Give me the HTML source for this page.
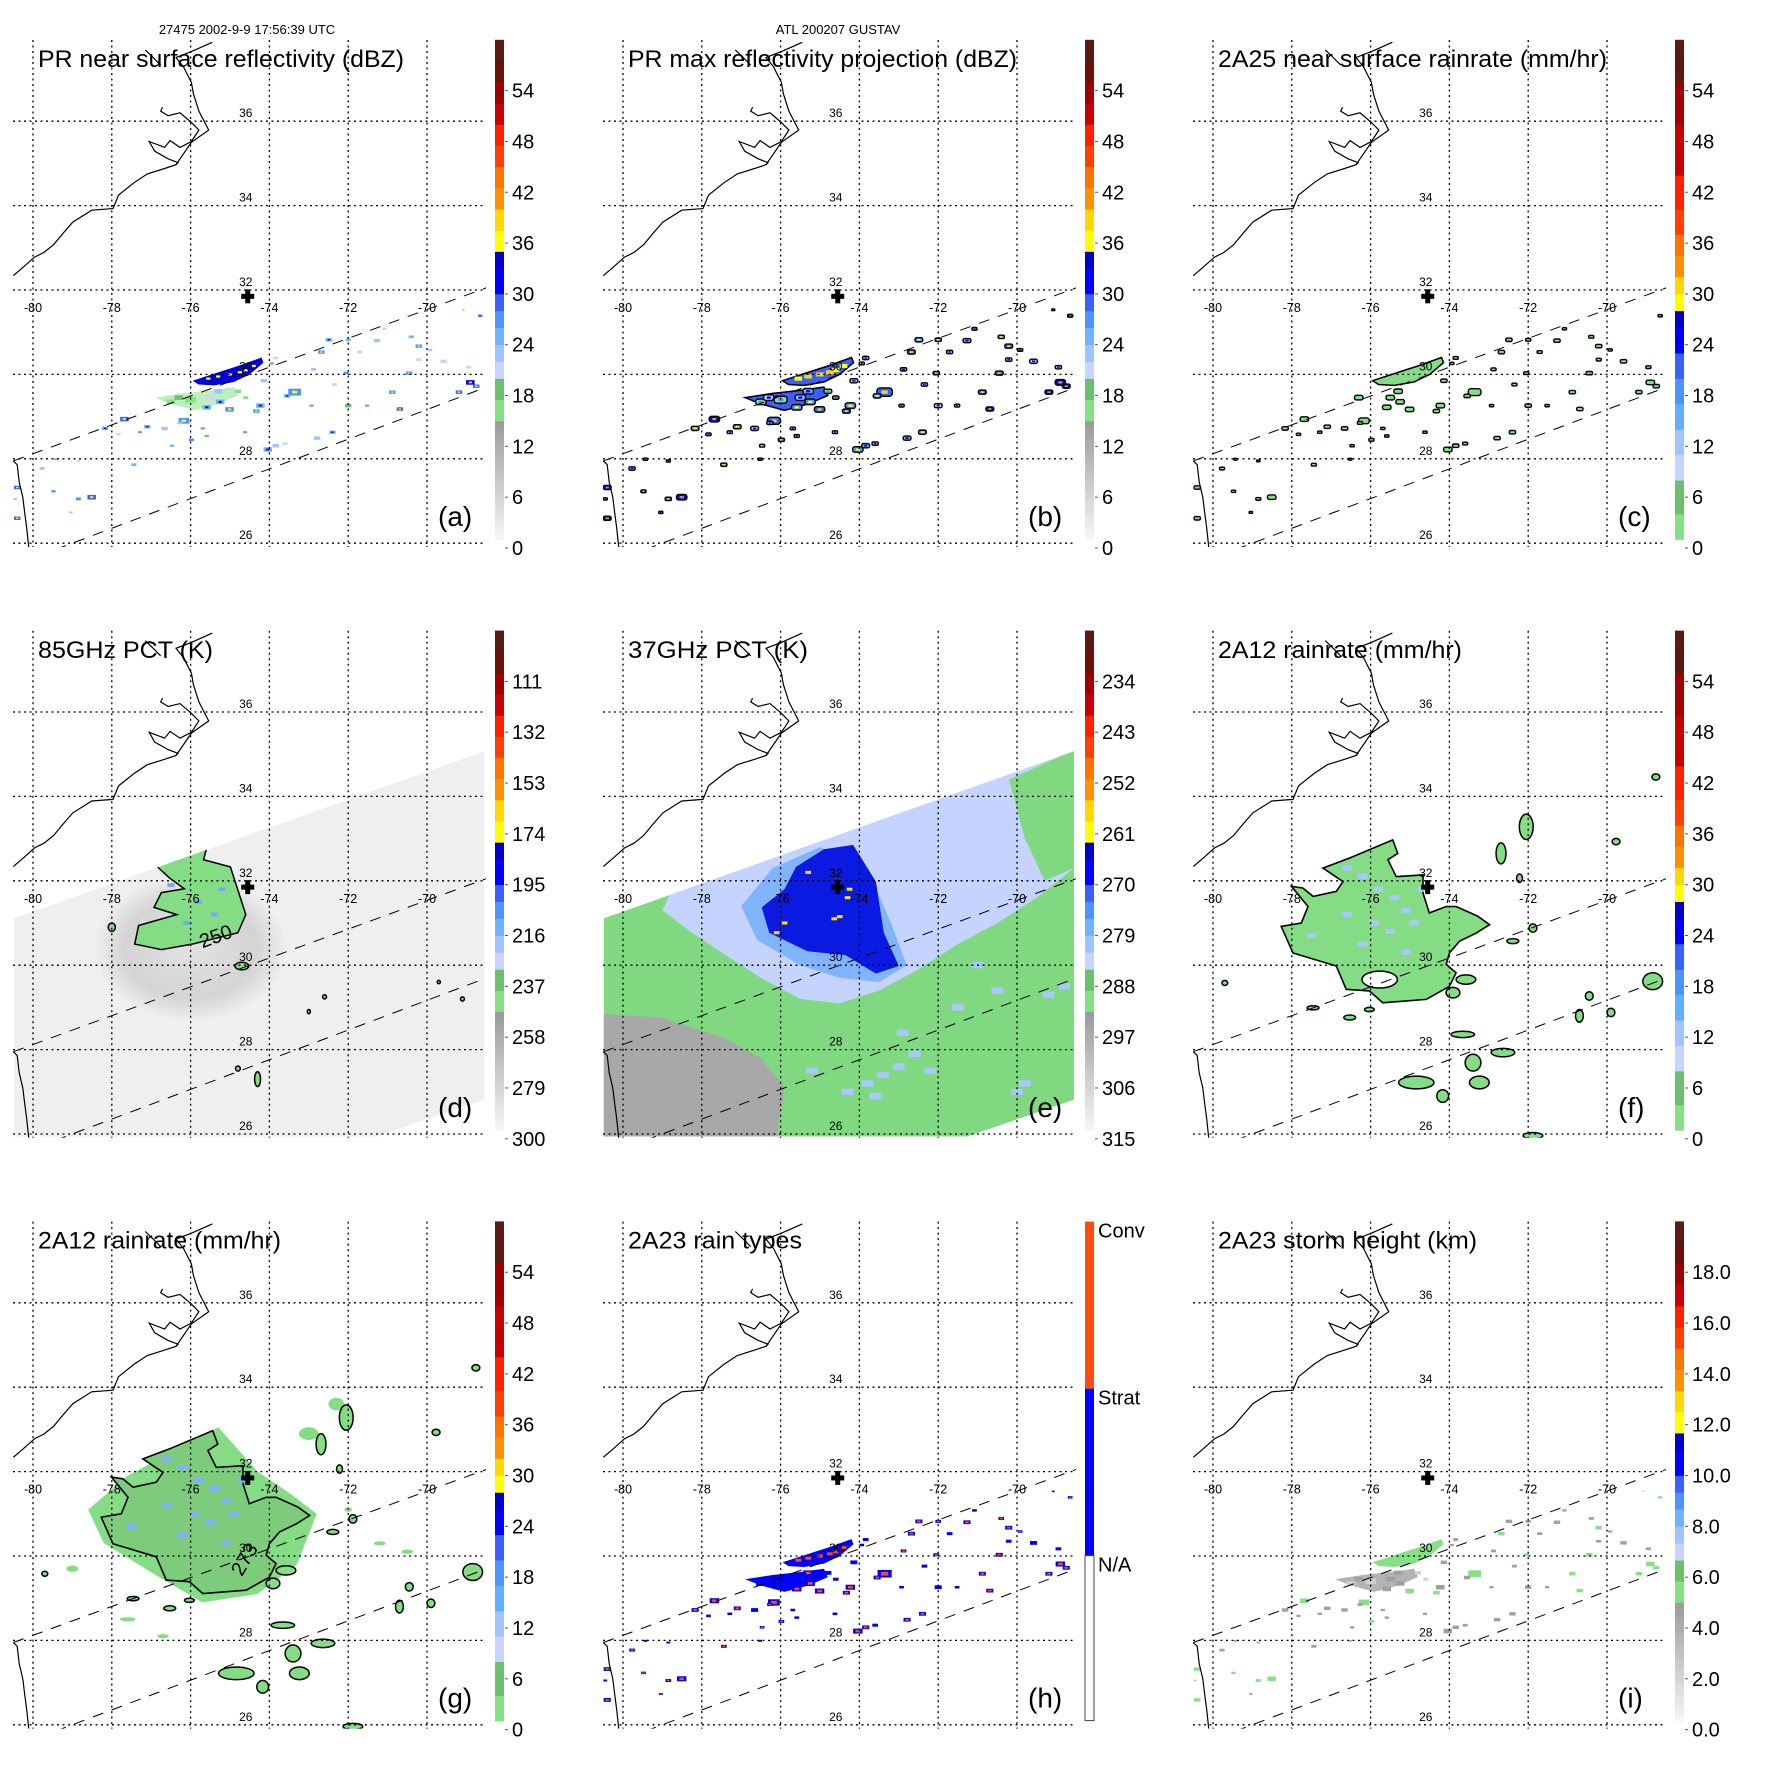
<!DOCTYPE html>
<html><head><meta charset="utf-8"><style>
html,body{margin:0;padding:0;background:#fff}
svg{display:block;font-family:"Liberation Sans",Arial,sans-serif}
</style></head><body>
<svg id="fig" width="1771" height="1771" viewBox="0 0 1771 1771" xmlns="http://www.w3.org/2000/svg">
<rect x="0" y="0" width="1771" height="1771" fill="#fff"/>
<text x="247" y="34" font-size="13" text-anchor="middle">27475 2002-9-9 17:56:39 UTC</text>
<text x="838" y="34" font-size="13" text-anchor="middle">ATL 200207 GUSTAV</text>
</svg>
<script>
// ---------- data ----------
const LONS=[-80,-78,-76,-74,-72,-70];
const LATS=[36,34,32,30,28,26];
const lonLabels=['-80','-78','-76','-74','-72','-70'];
const latLabels=['36','34','32','30','28','26'];
const center=[-74.55,31.85];
const swathUpper=[[-80.5,27.95],[-68.5,32.05]];
const swathLower=[[-79.43,25.85],[-68.6,29.66]];
const coastMain=[[-80.5,32.34],[-80.26,32.53],[-79.96,32.78],[-79.72,32.89],[-79.48,33.07],[-79.24,33.34],[-78.99,33.61],[-78.51,33.89],[-77.97,33.93],[-77.83,34.25],[-77.44,34.54],[-77.10,34.75],[-76.66,34.88],[-76.37,34.97],[-76.32,35.02],[-76.57,35.11],[-76.91,35.29],[-77.05,35.52],[-76.66,35.38],[-76.52,35.54],[-76.27,35.38],[-75.98,35.52],[-75.79,35.79],[-75.98,35.97],[-76.27,36.20],[-76.57,36.13],[-76.76,36.24],[-76.71,36.33]];
const coastBanks=[[-76.37,34.97],[-75.98,35.50],[-75.54,35.79],[-75.79,36.24],[-75.93,36.65],[-75.98,36.92],[-76.18,37.29],[-76.37,37.51],[-75.98,37.65],[-75.45,37.87]];
const coastBay=[[-76.76,37.33],[-76.95,37.51],[-77.15,37.69]];
const coastFlorida=[[-80.50,27.95],[-80.40,27.86],[-80.35,27.45],[-80.26,27.09],[-80.21,26.72],[-80.16,26.36],[-80.11,25.91]];
// PR cells: lon, lat, size(deg), reflectivity(dBZ)
const cells=[[-72.49,30.82,.15,28],[-72.0,30.82,.12,28],[-72.68,30.53,.15,30],[-72.88,30.12,.12,26],[-73.36,29.58,.3,30],[-73.55,29.49,.15,28],[-73.84,30.39,.12,24],[-73.94,30.26,.1,22],[-74.14,29.85,.15,25],[-74.23,29.26,.2,28],[-74.33,29.13,.15,30],[-75.01,29.17,.2,30],[-75.25,29.35,.2,28],[-75.59,29.22,.2,28],[-76.17,28.90,.25,30],[-76.27,28.85,.12,26],[-76.66,28.72,.15,25],[-77.10,28.76,.15,28],[-77.68,28.94,.2,32],[-78.17,28.72,.15,28],[-77.83,28.58,.1,24],[-77.29,28.63,.1,22],[-75.69,28.72,.1,22],[-74.62,28.63,.1,22],[-74.04,28.22,.2,28],[-73.84,28.31,.15,26],[-73.6,28.36,.12,24],[-72.79,28.49,.15,26],[-72.40,28.63,.15,28],[-72.35,29.76,.12,24],[-72.0,29.26,.15,22],[-72.05,30.03,.12,30],[-71.27,30.80,.15,26],[-71.08,31.08,.1,24],[-71.71,30.53,.12,24],[-70.88,29.58,.15,30],[-70.69,29.18,.15,32],[-70.40,30.89,.12,28],[-70.21,30.67,.15,30],[-69.92,30.58,.1,26],[-70.21,30.35,.12,24],[-70.45,30.03,.15,30],[-69.58,30.31,.15,24],[-68.95,30.17,.12,24],[-68.9,29.81,.2,34],[-68.75,29.72,.15,32],[-69.19,29.58,.15,32],[-68.65,31.39,.1,32],[-69.08,31.53,.06,20],[-75.98,28.45,.12,30],[-76.47,28.31,.1,28],[-75.59,28.54,.1,22],[-77.44,27.86,.12,28],[-79.77,27.77,.12,26],[-79.48,27.23,.1,30],[-78.85,27.05,.12,30],[-78.51,27.09,.2,32],[-79.04,26.73,.08,26],[-80.4,27.32,.15,32],[-80.4,26.59,.15,32],[-80.45,27.05,.08,20],[-79.43,27.99,.08,22],[-78.85,27.95,.08,24],[-76.52,27.99,.08,24],[-71.52,29.26,.1,22],[-72.93,29.26,.1,22],[-76.5,29.35,.2,19],[-76.0,29.4,.25,19],[-75.5,29.45,.2,24],[-76.3,29.45,.2,22],[-74.8,29.6,.15,19],[-75.3,29.6,.2,26],[-74.6,29.45,.12,20]];
const coreBand=[[-75.95,29.85],[-75.4,30.02],[-74.8,30.2],[-74.2,30.4],[-74.15,30.28],[-74.5,30.0],[-74.9,29.82],[-75.4,29.74],[-75.8,29.76]];
const secondBand=[[-76.9,29.45],[-76.2,29.55],[-75.5,29.62],[-74.9,29.7],[-74.8,29.5],[-75.3,29.3],[-75.9,29.15],[-76.5,29.3]];
const coreSpecks=[[-75.3,29.95,37],[-75.0,30.0,38],[-74.6,30.1,36],[-74.75,30.05,37],[-74.4,30.2,36],[-75.55,29.9,36]];
// TMI swath
const tmiSwath=[[-80.49,31.11],[-68.55,35.07],[-68.55,26.81],[-71.26,25.94],[-80.49,25.94]];
const dRing=[-76.0,30.4,2.4,1.7];
const dGreen=[[-76.93,32.42],[-76.06,32.68],[-75.57,32.85],[-75.67,32.5],[-74.99,32.33],[-74.6,31.2],[-74.8,30.77],[-75.96,30.5],[-76.74,30.37],[-77.42,30.5],[-77.32,30.94],[-76.35,31.2],[-76.93,31.37],[-76.74,31.72],[-76.16,31.81],[-76.54,32.07],[-76.84,32.33]];
const dBlobs=[[-74.7,29.98,.35,.18],[-72.6,29.25,.1,.1],[-69.1,29.2,.1,.1],[-74.3,27.3,.15,.35],[-74.8,27.55,.12,.12],[-78.0,30.9,.18,.2],[-73.0,28.9,.08,.1],[-69.7,29.6,.08,.08]];
const dBlueCells=[[-76.5,31.9],[-75.8,31.5],[-75.4,31.2],[-76.1,31.0],[-75.2,31.8]];
const eLightBlue=[[-78.7,31.9],[-68.55,35.2],[-68.55,32.3],[-69.5,31.6],[-70.5,31.0],[-71.5,30.5],[-72.5,29.9],[-73.5,29.4],[-74.5,29.1],[-75.5,29.2],[-76.5,29.7],[-77.5,30.3],[-78.3,30.8],[-79.0,31.3]];
const eGreenR=[[-70.2,34.4],[-68.55,35.1],[-68.55,32.3],[-69.3,32.0],[-69.8,33.0]];
const eMedBlue=[[-76.2,32.3],[-75.0,32.8],[-73.8,32.3],[-73.2,31.0],[-72.8,30.0],[-73.5,29.6],[-74.5,29.7],[-75.5,30.0],[-76.6,30.6],[-77.0,31.4]];
const eDarkBlue=[[-75.61,32.33],[-74.9,32.75],[-74.16,32.85],[-73.58,31.98],[-73.38,30.77],[-73.0,29.98],[-73.58,29.8],[-74.35,30.24],[-75.32,30.33],[-76.29,30.77],[-76.48,31.37],[-75.9,31.8]];
const eYellow=[[-75.3,32.2],[-74.25,31.8],[-74.3,31.6],[-74.64,31.1],[-74.5,31.15],[-76.1,30.77],[-75.9,31.0]];
const eGray=[[-80.49,28.85],[-79,28.75],[-77.5,28.3],[-76.5,27.8],[-75.9,27.1],[-76.1,25.94],[-80.49,25.94]];
const eBlueCells=[[-73.8,27.2],[-73.4,27.4],[-73.0,27.6],[-72.6,27.9],[-72.2,27.5],[-74.3,27.0],[-73.6,26.9],[-70.0,27.0],[-69.8,27.2],[-75.2,27.5],[-71.5,29.0],[-69.2,29.3],[-68.8,29.5],[-72.9,28.4],[-71.0,30.0],[-70.5,29.4]];
// 2A12 rain
const fBlob=[[-77.21,32.30],[-76.53,32.54],[-75.44,32.97],[-75.31,32.65],[-75.56,32.50],[-75.35,32.10],[-74.67,32.14],[-74.67,31.71],[-74.51,31.24],[-74.08,31.39],[-73.83,31.39],[-73.28,31.16],[-72.98,30.96],[-73.32,30.76],[-73.74,30.57],[-74.0,30.29],[-74.08,30.02],[-73.83,29.82],[-74.0,29.50],[-74.59,29.19],[-75.69,29.11],[-76.03,29.39],[-76.62,29.43],[-76.87,29.98],[-77.97,30.29],[-78.27,30.92],[-77.76,31.0],[-77.59,31.39],[-78.01,31.87],[-77.72,31.83],[-77.46,31.63],[-76.87,31.75],[-76.70,31.98]];
const fHole=[-75.77,29.66,.45,.2];
const fBlobs=[[-72.05,33.28,.35,.6],[-72.69,32.65,.25,.5],[-69.77,32.93,.2,.15],[-73.58,29.66,.5,.22],[-73.91,29.35,.35,.25],[-73.66,28.36,.6,.15],[-72.64,27.93,.6,.2],[-73.4,27.69,.4,.4],[-73.24,27.22,.5,.3],[-74.84,27.22,.9,.3],[-74.17,26.9,.3,.3],[-68.84,29.62,.5,.4],[-70.7,28.80,.2,.3],[-69.9,28.88,.2,.2],[-70.45,29.27,.2,.2],[-71.88,30.88,.2,.2],[-72.39,30.57,.3,.12],[-76.53,28.76,.3,.12],[-76.03,28.95,.25,.1],[-77.46,28.99,.3,.1],[-79.7,29.58,.15,.12],[-72.22,32.06,.15,.2],[-68.76,34.46,.2,.15],[-71.88,25.96,.5,.15]];
const fBlueCells=[[-76.6,32.3],[-76.2,32.1],[-75.8,31.8],[-75.4,31.6],[-75.1,31.3],[-75.9,31.0],[-75.5,30.8],[-76.6,31.2],[-74.9,31.0],[-76.2,30.5],[-74.7,31.8],[-77.5,30.7],[-75.1,30.3]];
const gHalo=[[-77.6,31.9],[-75.3,33.05],[-74.3,32.0],[-73.5,31.5],[-72.8,31.0],[-73.3,29.8],[-74.3,29.1],[-75.7,28.9],[-76.8,29.5],[-78.2,30.3],[-78.6,31.1]];
const gExtra=[[-73.0,32.9,.5,.3],[-72.3,33.6,.4,.3],[-79.0,29.7,.3,.15],[-76.7,28.1,.3,.1],[-77.6,28.5,.4,.1],[-72.0,31.1,.2,.1],[-71.2,30.3,.3,.1],[-70.5,30.1,.3,.1],[-73.5,30.4,.6,.3]];
// colorbar tick labels (top to bottom)
const cbA=['54','48','42','36','30','24','18','12','6','0'];
const cbD=['111','132','153','174','195','216','237','258','279','300'];
const cbE=['234','243','252','261','270','279','288','297','306','315'];
const cbI=['18.0','16.0','14.0','12.0','10.0','8.0','6.0','4.0','2.0','0.0'];
const cbH=['Conv','Strat','N/A'];

// ---------- helpers ----------
const NS='http://www.w3.org/2000/svg';
const svg=document.getElementById('fig');
function mk(parent,tag,attrs,name){
  const el=document.createElementNS(NS,tag);
  for(const k in attrs) el.setAttribute(k,attrs[k]);
  
  
  parent.appendChild(el); return el;
}
const X=lon=>33+(lon+80)*39.4;
const Y=lat=>290-(lat-32)*42.2;
const pts=a=>a.map(p=>X(p[0]).toFixed(1)+','+Y(p[1]).toFixed(1)).join(' ');
function cA(v){
  if(v<15){const g=Math.round(252-(v/15)*100);return `rgb(${g},${g},${g})`;}
  if(v<20) return v<17.5?'#86e086':'#6cc06c';
  if(v<22) return '#c8d4ff'; if(v<24) return '#a0c4ff'; if(v<26) return '#70b4ff';
  if(v<28) return '#4c94ff'; if(v<30) return '#3a60ff'; if(v<33) return '#0000ff';
  if(v<35) return '#0000c8'; if(v<40) return v<37.5?'#ffff00':'#ffd800';
  if(v<45) return v<42.5?'#ff9000':'#ff7400'; if(v<50) return v<47.5?'#ff4000':'#ff2000';
  if(v<55) return v<52.5?'#c80000':'#a00000'; return v<57.5?'#6a1008':'#5a1a14';
}
function cR(v){
  if(v<8) return v<4?'#86e086':'#6cc06c';
  if(v<11) return '#c8d4ff'; if(v<14) return '#a0c4ff'; if(v<17) return '#60b0ff';
  if(v<20) return '#4c94ff'; if(v<23) return '#3a60ff'; if(v<26) return '#0000ff';
  if(v<28) return '#0000c8'; if(v<32) return v<30?'#ffff00':'#ffd800';
  if(v<37) return v<34.5?'#ff9000':'#ff7400'; if(v<44) return v<40?'#ff4000':'#ff2000';
  if(v<55) return v<50?'#c80000':'#a00000'; return '#5a1a14';
}
const GREEN='#84dc84';

function panel(col,row,key,title,tw,letter){
  const ox=col*590, oy=row*590.8;
  const g=mk(svg,'g',{transform:`translate(${ox},${oy})`},'panel-'+key);
  const defs=mk(g,'defs',{},'panel-defs-'+key);
  const cp=mk(defs,'clipPath',{id:'clip'+key},'map-clip-'+key);
  mk(cp,'rect',{x:13,y:40,width:473,height:507},'map-clip-rect-'+key);
  const cs=mk(defs,'clipPath',{id:'tmi'+key},'swath-clip-'+key);
  mk(cs,'polygon',{points:pts(tmiSwath)},'swath-clip-poly-'+key);
  const data=mk(g,'g',{'clip-path':`url(#clip${key})`},'map-data-'+key);
  return {g,data,key,title,tw,letter,defs};
}
function finish(P){
  const g=P.g,k=P.key;
  const grid=mk(g,'g',{stroke:'#000','stroke-width':1.3,'stroke-dasharray':'2 3.5',fill:'none'},'graticule-'+k);
  LONS.forEach(lon=>{mk(grid,'line',{x1:X(lon),y1:40,x2:X(lon),y2:547},'meridian-'+lon);});
  LATS.forEach(lat=>{mk(grid,'line',{x1:13,y1:Y(lat),x2:486,y2:Y(lat)},'parallel-'+lat);});
  const cg=mk(g,'g',{stroke:'#000','stroke-width':1.2,fill:'none','clip-path':`url(#clip${k})`},'coastline-'+k);
  [coastMain,coastBanks,coastBay,coastFlorida].forEach((c,i)=>mk(cg,'polyline',{points:pts(c)},'coast-segment-'+i));
  const sg=mk(g,'g',{stroke:'#000','stroke-width':1,'stroke-dasharray':'11 9',fill:'none','clip-path':`url(#clip${k})`},'pr-swath-edges-'+k);
  mk(sg,'line',{x1:X(swathUpper[0][0]),y1:Y(swathUpper[0][1]),x2:X(swathUpper[1][0]),y2:Y(swathUpper[1][1])},'pr-swath-upper-edge');
  mk(sg,'line',{x1:X(swathLower[0][0]),y1:Y(swathLower[0][1]),x2:X(swathLower[1][0]),y2:Y(swathLower[1][1])},'pr-swath-lower-edge');
  LATS.forEach((lat,i)=>mk(g,'text',{x:X(-74.6),y:Y(lat)-4,'font-size':12,'text-anchor':'middle'},'lat-label-'+latLabels[i]).textContent=latLabels[i]);
  LONS.forEach((lon,i)=>mk(g,'text',{x:X(lon),y:Y(32)+22,'font-size':12.5,'text-anchor':'middle'},'lon-label-'+lonLabels[i]).textContent=lonLabels[i]);
  const cx=X(center[0]),cy=Y(center[1]);
  mk(g,'rect',{x:cx-6.5,y:cy-2.5,width:13,height:5,fill:'#000'},'storm-center-marker-h');
  mk(g,'rect',{x:cx-2.5,y:cy-7,width:5,height:14,fill:'#000'},'storm-center-marker-v');
  mk(g,'text',{x:38,y:67,'font-size':24,textLength:P.tw,lengthAdjust:'spacingAndGlyphs'},'panel-title-'+k).textContent=P.title;
  mk(g,'text',{x:438,y:526,'font-size':28},'panel-letter-'+k).textContent=P.letter;
}
function colorbar(P,fn,labels){
  const g=mk(P.g,'g',{},'colorbar-'+P.key);
  for(let v=1;v<60;v+=0.5){mk(g,'rect',{x:495,y:(548-(v+0.5)*8.47).toFixed(2),width:9,height:(0.5*8.47+0.3).toFixed(2),fill:fn(v)},'colorbar-swatch');}
  labels.forEach((t,i)=>{const y=548-(54-6*i)*8.47;
    mk(g,'line',{x1:505,x2:508,y1:y,y2:y,stroke:'#555','stroke-width':1},'colorbar-tick');
    mk(g,'text',{x:512,y:y+7,'font-size':20},'colorbar-label-'+t).textContent=t;});
}
function cellRect(parent,c,fill,scale,name,stroke){
  const s=c[2]*scale; const w=s*39.4*1.2, h=s*42.2*0.6;
  const a={x:X(c[0])-w/2,y:Y(c[1])-h/2,width:w,height:h,fill:fill};
  if(stroke){a.stroke='#000';a['stroke-width']=1.4;a.rx=Math.min(w,h)/2.5;}
  return mk(parent,'rect',a,name);
}
function ell(parent,e,attrs,name,half){
  const f=half?0.5:1;
  const a=Object.assign({cx:X(e[0]),cy:Y(e[1]),rx:e[2]*39.4*f,ry:e[3]*42.2*f},attrs);
  return mk(parent,'ellipse',a,name);
}

// ---------- panel a ----------
let P=panel(0,0,'a','PR near surface reflectivity (dBZ)',366,'(a)');
mk(P.data,'polygon',{points:pts(secondBand),fill:'#86e086',opacity:0.55},'stratiform-band');
cells.forEach(c=>{cellRect(P.data,c,cA(c[3]-3),0.9,'reflectivity-cell'); if(c[3]>=28&&c[2]>=0.15) cellRect(P.data,[c[0],c[1],c[2]*0.35,0],cA(c[3]+5),1,'reflectivity-core');});
mk(P.data,'polygon',{points:pts(coreBand),fill:'#0000dd'},'convective-band-core');
coreSpecks.forEach(c=>cellRect(P.data,[c[0],c[1],0.09],cA(c[2]),1,'high-reflectivity-speck'));
colorbar(P,cA,cbA); finish(P);

// ---------- panel b ----------
P=panel(1,0,'b','PR max reflectivity projection (dBZ)',389,'(b)');
mk(P.data,'polygon',{points:pts(secondBand),fill:'#3a60ff',stroke:'#000','stroke-width':1.5},'max-band-secondary');
cells.forEach(c=>{cellRect(P.data,c,cA(c[3]-2),1.1,'max-reflectivity-cell',true); cellRect(P.data,[c[0],c[1],c[2]*0.4],cA(c[3]+8),1.1,'max-reflectivity-core');});
mk(P.data,'polygon',{points:pts(coreBand),fill:'#3a60ff',stroke:'#000','stroke-width':1.5},'max-band-core');
coreSpecks.forEach(c=>cellRect(P.data,[c[0],c[1],0.16],cA(c[2]+1),1,'max-reflectivity-speck'));
colorbar(P,cA,cbA); finish(P);

// ---------- panel c ----------
P=panel(2,0,'c','2A25 near surface rainrate (mm/hr)',389,'(c)');
cells.forEach(c=>{if(c[3]>=22) cellRect(P.data,c,GREEN,0.9,'rain-cell',true);});
mk(P.data,'polygon',{points:pts(coreBand),fill:GREEN,stroke:'#000','stroke-width':1.5},'rain-band-core');
colorbar(P,cR,cbA); finish(P);

// ---------- panel d ----------
P=panel(0,1,'d','85GHz PCT (K)',175,'(d)');
const rg=mk(P.defs,'radialGradient',{id:'ringd'},'ring-gradient');
mk(rg,'stop',{offset:'0','stop-color':'#e2e2e2'},'ring-stop');
mk(rg,'stop',{offset:'0.7','stop-color':'#d4d4d4'},'ring-stop');
mk(rg,'stop',{offset:'1','stop-color':'#ededed'},'ring-stop');
const dsw=mk(P.data,'g',{'clip-path':'url(#tmid)'},'tmi-swath-85');
mk(dsw,'polygon',{points:pts(tmiSwath),fill:'#efefef'},'tmi-swath-fill');
ell(dsw,dRing,{fill:'url(#ringd)'},'scattering-ring');
mk(dsw,'polygon',{points:pts(dGreen),fill:GREEN,stroke:'#000','stroke-width':1.5},'cold-pct-region');
dBlueCells.forEach(c=>cellRect(dsw,[c[0],c[1],0.15],'#70a8ff',1,'cold-pct-cell'));
dBlobs.forEach(b=>ell(dsw,b,{fill:GREEN,stroke:'#000','stroke-width':1.5},'cold-pct-blob',true));
mk(P.data,'text',{x:X(-75.7),y:Y(30.4),'font-size':20,transform:`rotate(-20 ${X(-75.7)} ${Y(30.4)})`},'contour-label-250').textContent='250';
colorbar(P,cA,cbD); finish(P);

// ---------- panel e ----------
P=panel(1,1,'e','37GHz PCT (K)',180,'(e)');
const esw=mk(P.data,'g',{'clip-path':'url(#tmie)'},'tmi-swath-37');
mk(esw,'polygon',{points:pts(tmiSwath),fill:'#80d880'},'warm-pct-background');
mk(esw,'polygon',{points:pts(eGray),fill:'#a8a8a8'},'land-pct-region');
mk(esw,'polygon',{points:pts(eLightBlue),fill:'#c4d4ff'},'light-scatter-region');
mk(esw,'polygon',{points:pts(eGreenR),fill:'#80d880'},'east-warm-region');
mk(esw,'polygon',{points:pts(eMedBlue),fill:'#80b4ff'},'moderate-scatter-region');
mk(esw,'polygon',{points:pts(eDarkBlue),fill:'#0a1ae0'},'strong-scatter-region');
eYellow.forEach(c=>cellRect(esw,[c[0],c[1],0.12],'#ffe000',1,'very-cold-pct-cell'));
eBlueCells.forEach(c=>cellRect(esw,[c[0],c[1],0.25],'#a8c8ff',1,'scatter-cell'));
colorbar(P,cA,cbE); finish(P);

// ---------- panel f ----------
P=panel(2,1,'f','2A12 rainrate (mm/hr)',244,'(f)');
mk(P.data,'polygon',{points:pts(fBlob),fill:GREEN,stroke:'#000','stroke-width':1.6},'tmi-rain-region');
fBlueCells.forEach(c=>cellRect(P.data,[c[0],c[1],0.2],'#a8c8ff',1,'moderate-rain-cell'));
ell(P.data,fHole,{fill:'#fff',stroke:'#000','stroke-width':1.5},'rain-free-hole');
fBlobs.forEach(b=>ell(P.data,b,{fill:GREEN,stroke:'#000','stroke-width':1.5},'rain-blob',true));
colorbar(P,cR,cbA); finish(P);

// ---------- panel g ----------
P=panel(0,2,'g','2A12 rainrate (mm/hr)',243,'(g)');
mk(P.data,'polygon',{points:pts(gHalo),fill:GREEN},'light-rain-halo');
gExtra.forEach(b=>ell(P.data,b,{fill:GREEN},'light-rain-patch',true));
mk(P.data,'polygon',{points:pts(fBlob),fill:'#7ccc7c',stroke:'#000','stroke-width':1.6},'tmi-rain-region');
fBlueCells.forEach(c=>cellRect(P.data,[c[0],c[1],0.2],'#80b0ff',1,'moderate-rain-cell'));
fBlobs.forEach(b=>ell(P.data,b,{fill:GREEN,stroke:'#000','stroke-width':1.5},'rain-blob',true));
mk(P.data,'text',{x:X(-74.7),y:Y(29.5),'font-size':20,transform:`rotate(-60 ${X(-74.7)} ${Y(29.5)})`},'contour-label-273').textContent='273';
colorbar(P,cR,cbA); finish(P);

// ---------- panel h ----------
P=panel(1,2,'h','2A23 rain types',174,'(h)');
mk(P.data,'polygon',{points:pts(secondBand),fill:'#0000ff'},'stratiform-band');
cells.forEach(c=>{cellRect(P.data,c,'#0000ff',1.0,'rain-type-cell'); if(c[3]>=26) cellRect(P.data,[c[0],c[1],c[2]*0.5],'#ff4a10',1.0,'convective-cell');});
mk(P.data,'polygon',{points:pts(coreBand),fill:'#0000ff'},'rain-type-core');
coreSpecks.forEach(c=>cellRect(P.data,[c[0],c[1],0.12],'#ff4a10',1,'convective-speck'));
{const hb=mk(P.g,'g',{},'colorbar-h');
 mk(hb,'rect',{x:495,y:40,width:9,height:167,fill:'#ff4a10'},'colorbar-conv');
 mk(hb,'rect',{x:495,y:207,width:9,height:167,fill:'#0000ff'},'colorbar-strat');
 mk(hb,'rect',{x:495,y:374,width:9,height:165,fill:'#fff',stroke:'#444','stroke-width':1},'colorbar-na');
 [40,207,374].forEach((y,i)=>mk(hb,'text',{x:508,y:y+16,'font-size':20},'colorbar-label-'+cbH[i]).textContent=cbH[i]);}
finish(P);

// ---------- panel i ----------
P=panel(2,2,'i','2A23 storm height (km)',259,'(i)');
mk(P.data,'polygon',{points:pts(secondBand),fill:'#a0a0a0',opacity:0.8},'storm-height-band');
cells.forEach(c=>cellRect(P.data,c,c[3]>=30?'#86e086':(c[3]>=22?'#a0a0a0':'#d0d0d0'),0.9,'storm-height-cell'));
mk(P.data,'polygon',{points:pts(coreBand),fill:'#86e086'},'storm-height-core');
colorbar(P,cA,cbI); finish(P);
</script>
</body></html>
